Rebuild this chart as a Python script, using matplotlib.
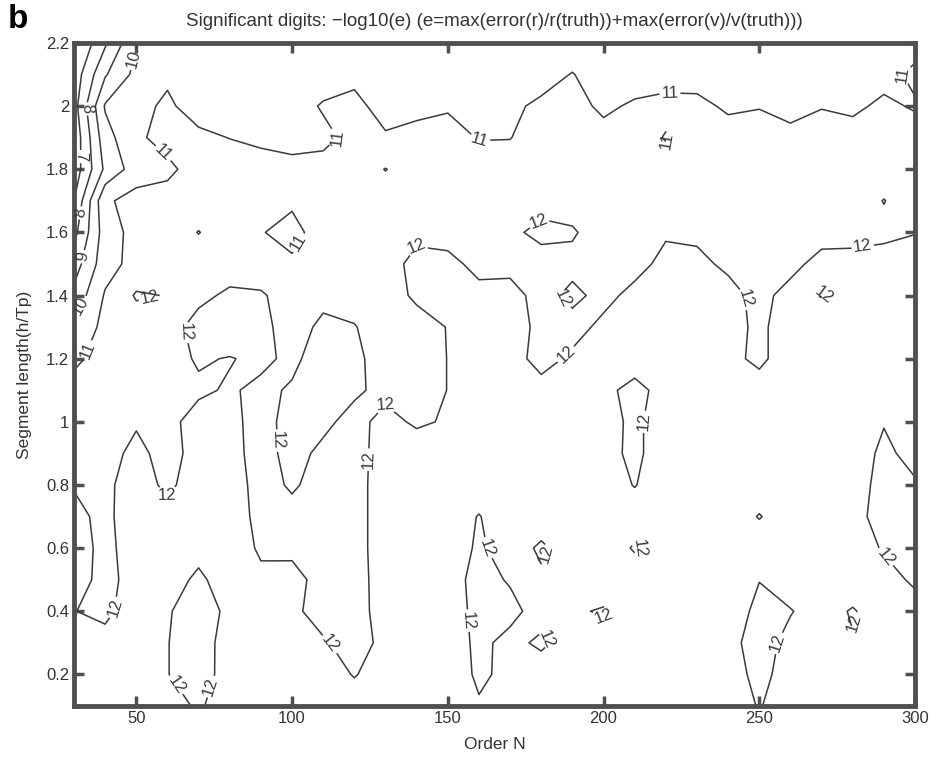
import matplotlib
matplotlib.use("Agg")
import numpy as np
import matplotlib.pyplot as plt

# grid: order N (columns) x segment length h/Tp (rows, top row = 2.2)
order_n = [30, 40, 50, 60, 70, 80, 90, 100, 110, 120, 130, 140, 150, 160,
           170, 180, 190, 200, 210, 220, 230, 240, 250, 260, 270, 280, 290, 300]
seg_len = [2.2, 2.1, 2.0, 1.9, 1.8, 1.7, 1.6, 1.5, 1.4, 1.3, 1.2,
           1.1, 1.0, 0.9, 0.8, 0.7, 0.6, 0.5, 0.4, 0.3, 0.2, 0.1]

# significant digits, -log10(e)
digits = [
    [5.85,7.85,9.95,10.45,10.3,10.3,10.3,10.3,10.3,10.3,10.3,10.3,10.3,10.3,10.3,10.3,10.36,10.3,10.3,10.3,10.3,10.3,10.3,10.3,10.3,10.3,10.3,10.61],
    [6.4,8.9,10.3,10.85,10.3,10.3,10.3,10.3,10.48,10.77,10.3,10.3,10.3,10.3,10.3,10.58,11.05,10.43,10.48,10.59,10.61,10.3,10.3,10.3,10.3,10.3,10.66,11.22],
    [6.6,10.1,10.75,11.15,10.6,10.3,10.3,10.55,11.1,11.25,10.65,10.7,10.9,10.4,10.8,11.2,11.35,10.8,11.15,11.3,11.25,10.85,10.95,10.65,10.95,10.8,11.2,10.9],
    [6.3,9.6,10.85,11.3,11.2,10.98,10.8,10.65,10.75,11.3,11.1,11.35,11.35,10.95,10.97,11.5,11.5,11.35,11.5,10.93,11.5,11.4,11.45,11.3,11.45,11.4,11.5,11.45],
    [6.4,9.2,10.5,10.8,11.4,11.5,11.4,11.3,11.35,11.5,12.03,11.5,11.5,11.5,11.5,11.5,11.5,11.5,11.5,11.5,11.5,11.5,11.5,11.5,11.5,11.5,11.5,11.5],
    [7.0,10.85,11.35,11.35,11.5,11.5,11.45,11.15,11.5,11.5,11.5,11.5,11.5,11.5,11.5,11.65,11.6,11.5,11.5,11.5,11.5,11.5,11.5,11.5,11.5,11.5,12.03,11.5],
    [7.7,10.5,11.35,11.5,12.03,11.5,11.05,10.7,11.45,11.5,11.5,11.8,11.65,11.5,11.8,12.25,12.1,11.55,11.5,11.9,11.8,11.5,11.5,11.5,11.6,11.65,11.75,11.95],
    [8.5,10.6,11.35,11.5,11.5,11.6,11.5,11.15,11.5,11.5,11.65,12.25,12.25,11.75,11.75,11.6,11.75,11.5,11.7,12.25,12.25,11.8,11.5,11.7,12.35,12.35,12.45,12.65],
    [9.3,11.1,12.1,11.97,11.8,12.15,12.1,11.6,11.75,11.6,11.6,12.15,12.6,12.25,12.3,11.7,12.2,11.75,12.25,12.7,12.7,12.35,11.7,12.35,11.95,12.7,12.7,12.7],
    [10.3,11.25,11.5,11.65,12.3,12.7,12.25,11.6,12.2,12.05,11.5,11.65,12.03,12.7,12.45,11.75,11.7,12.2,12.7,12.7,12.7,12.35,11.8,12.5,12.7,12.7,12.7,12.7],
    [10.8,11.4,11.5,11.65,12.1,11.95,12.2,11.8,12.45,12.2,11.6,11.5,12.02,12.7,12.35,11.7,12.15,12.65,12.4,12.7,12.7,12.25,11.8,12.5,12.7,12.7,12.7,12.7],
    [11.35,11.5,11.5,11.5,11.85,12.1,11.8,12.1,12.65,12.15,11.75,11.5,12.02,12.7,12.7,12.3,12.65,12.2,11.75,12.3,12.7,12.7,12.4,12.7,12.7,12.7,12.7,12.7],
    [11.5,11.5,11.9,11.75,12.35,12.25,11.65,12.35,12.2,11.7,12.3,11.85,12.1,12.7,12.7,12.7,12.7,12.35,11.8,12.5,12.7,12.7,12.7,12.7,12.7,12.65,12.05,12.65],
    [11.5,11.65,12.25,11.65,12.35,12.3,11.65,12.3,11.8,11.7,12.35,12.55,12.7,12.7,12.7,12.7,12.7,12.3,11.8,12.5,12.7,12.7,12.7,12.7,12.7,12.5,11.8,12.3],
    [11.95,11.8,12.45,11.8,12.5,12.4,11.7,12.1,11.7,11.7,12.4,12.7,12.7,12.6,12.7,12.7,12.7,12.55,11.95,12.65,12.7,12.7,12.7,12.7,12.7,12.4,11.7,11.9],
    [12.2,11.8,12.5,12.4,12.7,12.45,11.75,11.75,11.5,11.7,12.4,12.7,12.55,11.95,12.65,12.5,12.7,12.7,12.55,12.7,12.7,12.7,11.93,12.7,12.7,12.3,11.65,11.5],
    [12.4,11.75,12.45,12.7,12.3,12.6,11.85,11.8,11.5,11.7,12.4,12.7,12.55,11.85,12.45,11.85,12.45,12.7,11.88,12.7,12.7,12.7,12.7,12.7,12.7,12.55,11.9,11.55],
    [12.37,11.72,12.36,12.41,11.82,12.48,12.22,12.3,11.67,11.68,12.37,12.7,12.39,11.7,12.08,12.15,12.68,12.5,12.7,12.7,12.7,12.68,12.02,12.47,12.7,12.61,12.38,11.83],
    [12.02,11.8,12.48,12.07,11.61,12.18,12.7,12.19,11.64,11.67,12.35,12.7,12.45,11.74,11.75,12.37,12.11,11.92,12.59,12.7,12.7,12.47,11.78,11.95,12.42,11.91,12.58,12.41],
    [12.58,12.29,12.7,12.02,11.65,12.32,12.7,12.6,12.1,11.63,12.24,12.7,12.52,11.79,12.26,11.83,12.43,12.43,12.64,12.7,12.7,12.27,11.63,12.26,12.63,12.06,12.69,12.7],
    [12.7,12.7,12.69,12.02,11.65,12.33,12.7,12.7,12.54,11.93,12.54,12.7,12.56,11.84,12.23,12.48,12.7,12.7,12.7,12.7,12.7,12.42,11.73,12.39,12.7,12.7,12.7,12.7],
    [12.7,12.7,12.7,12.4,11.87,12.54,12.7,12.7,12.7,12.57,12.7,12.7,12.7,12.09,12.58,12.7,12.7,12.7,12.7,12.7,12.7,12.58,11.93,12.6,12.7,12.7,12.7,12.7],
]

levels = [6, 7, 8, 9, 10, 11, 12]

# where the inline labels sit (N, h/Tp)
label_spots = [(58.6,1.85),(115.4,1.90),(160.3,1.87),(221.3,2.04),(295.2,2.10),(101.6,1.57),(36.1,1.22),(220.4,1.89),
               (48.6,2.15),(33.5,1.36),(34.2,1.52),(32.9,1.99),(33.0,1.66),(32.4,1.84),
               (54.4,1.39),(64.0,1.28),(93.9,0.94),(60.8,0.76),(43.2,0.41),(61.8,0.16),(74.3,0.16),(130.8,1.07),
               (124.4,0.88),(112.8,0.30),(138.8,1.57),(178.9,1.64),(188.3,1.21),(187.0,1.39),(246.1,1.39),
               (283.3,1.55),(212.7,1.0),(162.6,0.6),(156.2,0.37),(182.2,0.58),(181.8,0.31),(199.8,0.37),
               (211.7,0.6),(255.7,0.30),(281.4,0.36),(290.4,0.57),(271.7,1.40)]

plt.rcParams['font.family'] = ['Liberation Sans', 'DejaVu Sans']

fig = plt.figure(figsize=(9.38, 7.6), dpi=100)
ax = fig.add_axes([0.0789, 0.0711, 0.8966, 0.8724])

z = np.array(digits)[::-1]
cs = ax.contour(order_n, seg_len[::-1], z, levels=levels, colors='#3a3a3a', linewidths=1.1)
ax.clabel(cs, fmt='%d', fontsize=12, manual=label_spots, inline_spacing=2)

ax.set_xlim(30, 300)
ax.set_ylim(0.1, 2.2)
ax.set_xticks([50, 100, 150, 200, 250, 300])
ax.set_yticks([0.2, 0.4, 0.6, 0.8, 1.0, 1.2, 1.4, 1.6, 1.8, 2.0, 2.2])
ax.set_yticklabels(['0.2', '0.4', '0.6', '0.8', '1', '1.2', '1.4', '1.6', '1.8', '2', '2.2'])
ax.tick_params(direction='in', top=True, right=True, length=7, width=2.5,
               color='#505050', labelsize=12, labelcolor='#333333')
for s in ax.spines.values():
    s.set_linewidth(3.5)
    s.set_color('#505050')

ax.set_title('Significant digits: \u2212log10(e) (e=max(error(r)/r(truth))+max(error(v)/v(truth)))',
             fontsize=13.5, color='#333333', pad=12)
ax.set_xlabel('Order N', fontsize=12.5, color='#333333', labelpad=8)
ax.set_ylabel('Segment length(h/Tp)', fontsize=12.5, color='#333333', labelpad=10)
fig.text(0.008, 0.995, 'b', fontsize=24, fontweight='bold', va='top')

fig.savefig('out.png')
